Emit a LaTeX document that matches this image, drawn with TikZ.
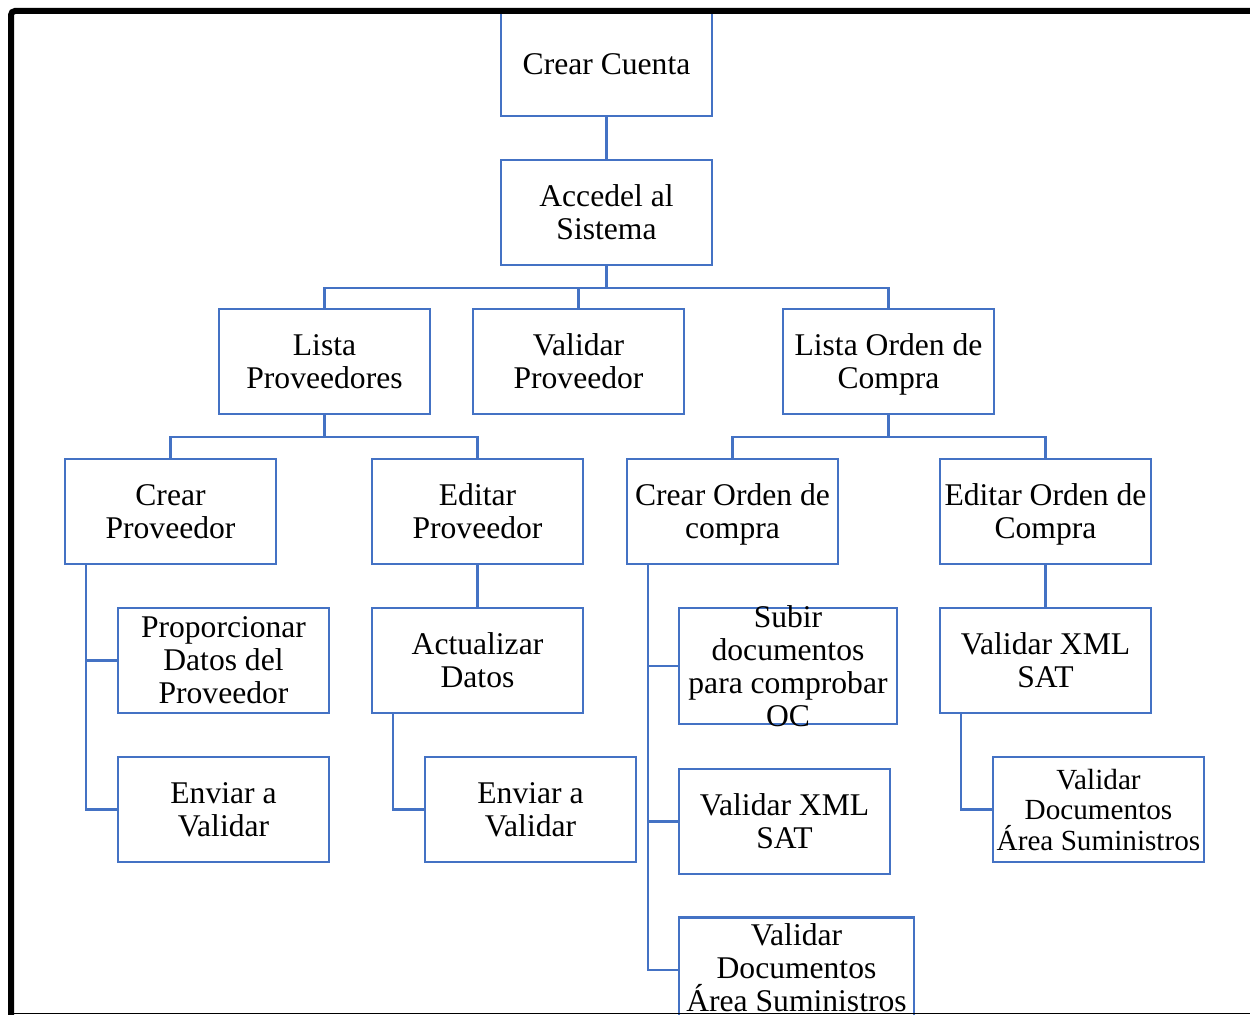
\documentclass[tikz,border=0pt]{standalone}
\usepackage{fontspec}
\setmainfont{Liberation Serif}
\usepackage{xcolor}
\usetikzlibrary{positioning}
\definecolor{wordblue}{HTML}{4472C4}

\begin{document}
\begin{tikzpicture}[
  x=0.5pt, y=-0.5pt,
  box/.style={draw=wordblue, line width=1.1pt, fill=white, align=center, inner sep=0pt, minimum width=105.5pt, minimum height=52.5pt, font=\fontsize{15.8}{16.5}\selectfont},
  mbox/.style={box, text depth=-0.5pt},
  tallbox/.style={box, minimum width=109pt, minimum height=58pt},
  wbox/.style={box, minimum width=117.5pt},
  txt/.style={align=center, inner sep=0pt, font=\fontsize{15.8}{16.5}\selectfont},
  conn/.style={draw=wordblue, line width=1.1pt}
]
\useasboundingbox (0,0) rectangle (1250,1015);
\clip (0,0) rectangle (1250,1015);
% top of the tree
\node[box, minimum height=52pt] (cuenta) at (606.5,64) {Crear Cuenta};
\node[mbox] (acceso) at (606.5,212.5) {Accedel al\\Sistema};
% second level
\node[mbox] (listaprov) at (324.5,361.5) {Lista\\Proveedores};
\node[mbox] (valprov)   at (578.5,361.5) {Validar\\Proveedor};
\node[mbox] (listaoc)   at (888.5,361.5) {Lista Orden de\\Compra};
% third level
\node[mbox] (crearprov) at (170.5,511.5)  {Crear\\Proveedor};
\node[mbox] (editprov)  at (477.5,511.5)  {Editar\\Proveedor};
\node[mbox] (crearoc)   at (732.5,511.5)  {Crear Orden de\\compra};
\node[mbox] (editoc)    at (1045.5,511.5) {Editar Orden de\\Compra};
% leaves under proveedores
\node[mbox] (datos)   at (223.5,660.5) {Proporcionar\\Datos del\\Proveedor};
\node[mbox] (enviaA)  at (223.5,809.5) {Enviar a\\Validar};
\node[mbox] (actual)  at (477.5,660.5) {Actualizar\\Datos};
\node[mbox] (enviaB)  at (530.5,809.5) {Enviar a\\Validar};
% leaves under orden de compra
\node[tallbox, label={[txt]center:Subir\\documentos\\para comprobar\\OC}] (subir) at (788,666) {};
\node[mbox] (xmlA)    at (784.5,821.5) {Validar XML\\SAT};
\node[wbox, label={[txt, yshift=1pt]center:Validar\\Documentos\\Área Suministros}] (docsA) at (796.5,970) {};
\node[mbox] (xmlB)    at (1045.5,660.5) {Validar XML\\SAT};
\node[mbox, font=\fontsize{14.6}{15.25}\selectfont] (docsB) at (1098.5,809.5) {Validar\\Documentos\\Área Suministros};
% connectors
\draw[conn] (cuenta) -- (acceso);
\draw[conn] (acceso.south) -- ++(0,22) -| (listaprov.north);
\draw[conn] (acceso.south) -- ++(0,22) -| (valprov.north);
\draw[conn] (acceso.south) -- ++(0,22) -| (listaoc.north);
\draw[conn] (listaprov.south) -- ++(0,22) -| (crearprov.north);
\draw[conn] (listaprov.south) -- ++(0,22) -| (editprov.north);
\draw[conn] (listaoc.south) -- ++(0,22) -| (crearoc.north);
\draw[conn] (listaoc.south) -- ++(0,22) -| (editoc.north);
\draw[conn] ([xshift=11pt]crearprov.south west) |- (datos.west);
\draw[conn] ([xshift=11pt]crearprov.south west) |- (enviaA.west);
\draw[conn] (editprov) -- (actual);
\draw[conn] ([xshift=11pt]actual.south west) |- (enviaB.west);
\draw[conn] ([xshift=11pt]crearoc.south west) |- (subir.west);
\draw[conn] ([xshift=11pt]crearoc.south west) |- (xmlA.west);
\draw[conn] ([xshift=11pt]crearoc.south west) |- (docsA.west);
\draw[conn] (editoc) -- (xmlB);
\draw[conn] ([xshift=11pt]xmlB.south west) |- (docsB.west);
% page frame
\draw[line width=3pt, rounded corners=2pt] (11,1020) -- (11,11) -- (1260,11);
\draw[line width=0.8pt] (14,1013.5) -- (1260,1013.5);
\end{tikzpicture}
\end{document}
